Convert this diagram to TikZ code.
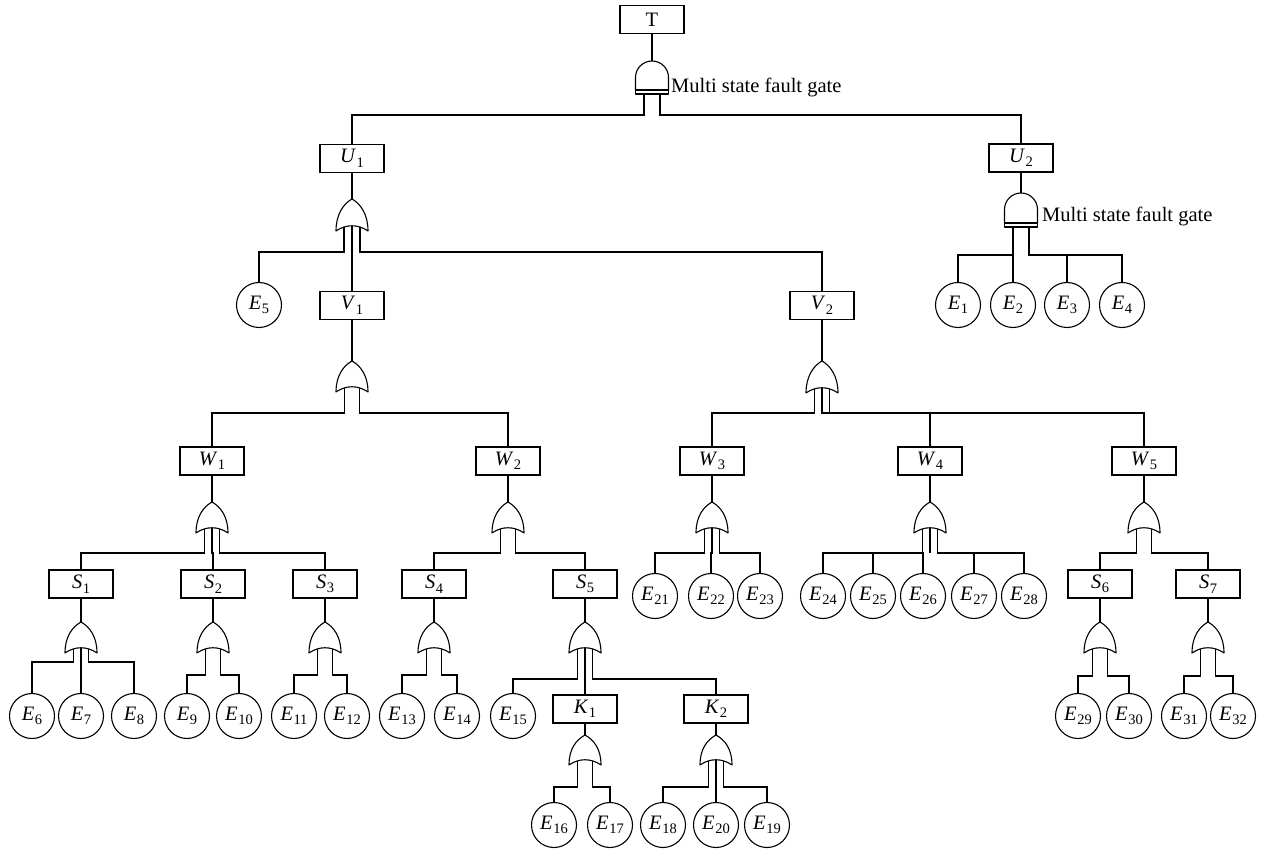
\documentclass[tikz,border=0pt]{standalone}
\usepackage{fontspec}
\setmainfont{Liberation Serif}
\pgfdeclarelayer{bg}
\pgfsetlayers{bg,main}
\tikzset{
  box/.style={draw, rectangle, minimum width=64pt, minimum height=28pt, inner sep=0pt, fill=white, line width=1.1pt},
  ev/.style={draw, circle, minimum size=45pt, inner sep=0pt, fill=white, line width=1.1pt},
  gate/.style={draw, fill=white, line width=1.1pt, line join=round},
  conn/.style={line width=1.1pt},
  lbl/.style={anchor=base west, inner sep=0pt},
}
\newcommand\lab[2]{\textit{#1}\kern0.5pt\raisebox{-4.5pt}{\fontsize{14.5}{14}\selectfont #2}}
\newcommand\orgate[5]{%
  \draw[gate] (#2,#3) .. controls (#2+9,#3+5) and (#2+16,#4-16) .. (#2+16,#4)
    .. controls (#2+6,#4-7) and (#2-6,#4-7) .. (#2-16,#4)
    .. controls (#2-16,#4-16) and (#2-9,#3+5) .. cycle;
  \coordinate (#1) at (#2,#3);
  \coordinate (#1a) at (#2-#5,#4-6);
  \coordinate (#1b) at (#2,#4-6);
  \coordinate (#1c) at (#2+#5,#4-6);}
\newcommand\andgate[5]{%
  \draw[gate] (#2-16.5,#4) -- (#2-16.5,#3+16.5) arc[start angle=180,end angle=0,radius=16.5pt] -- (#2+16.5,#4) -- cycle;
  \draw[gate] (#2-16.5,#4) rectangle (#2+16.5,#4+4);
  \coordinate (#1) at (#2,#3);
  \coordinate (#1a) at (#2-#5,#4+4);
  \coordinate (#1c) at (#2+#5,#4+4);}
\newcommand\link[3]{\draw[conn] (#1) -- (#1 |- 0,#3) -| (#2.north);}
\begin{document}
\begin{tikzpicture}[x=1pt,y=-1pt,font=\fontsize{20.5}{22}\selectfont]
\useasboundingbox (0,0) rectangle (1262,850);
% boxes
\node[box] (T) at (652,19.5) {T};
\node[box] (U1) at (352,158.5) {\lab{U}{1}};
\node[box] (U2) at (1021,158) {\lab{U}{2}};
\node[box] (V1) at (352,305.5) {\lab{V}{1}};
\node[box] (V2) at (822,305.5) {\lab{V}{2}};
\foreach \n/\x in {1/212,2/508,3/712,4/930,5/1144}
  \node[box] (W\n) at (\x,461) {\lab{W}{\n}};
\foreach \n/\x in {1/81,2/213,3/325,4/434,5/585,6/1100,7/1208}
  \node[box] (S\n) at (\x,584) {\lab{S}{\n}};
\node[box] (K1) at (585,709) {\lab{K}{1}};
\node[box] (K2) at (716,709) {\lab{K}{2}};
% events
\foreach \n/\x in {1/958,2/1013,3/1067,4/1122,5/259}
  \node[ev] (E\n) at (\x,305) {\lab{E}{\n}};
\foreach \n/\x in {21/655,22/711,23/760,24/823,25/873,26/923,27/974,28/1024}
  \node[ev] (E\n) at (\x,596) {\lab{E}{\n}};
\foreach \n/\x in {6/32,7/81,8/134,9/187,10/239,11/294,12/347,13/402,14/457,15/513,29/1078,30/1129,31/1184,32/1233}
  \node[ev] (E\n) at (\x,716) {\lab{E}{\n}};
\foreach \n/\x in {16/554,17/610,18/663,20/716,19/767}
  \node[ev] (E\n) at (\x,825) {\lab{E}{\n}};
% gates
\andgate{gT}{652}{61}{90}{8}
\andgate{gU2}{1021}{193}{223}{8}
\orgate{gU1}{352}{199}{231}{8}
\orgate{gV1}{352}{361}{392}{7.5}
\orgate{gV2}{822}{361}{393}{7.5}
\orgate{gW1}{212}{502}{533}{7.5}
\orgate{gW2}{508}{502}{533}{7.5}
\orgate{gW3}{712}{502}{533}{7.5}
\orgate{gW4}{930}{502}{533}{7.5}
\orgate{gW5}{1144}{502}{533}{7.5}
\orgate{gS1}{81}{622}{653}{7.5}
\orgate{gS2}{213}{622}{653}{7.5}
\orgate{gS3}{325}{622}{653}{7.5}
\orgate{gS4}{434}{622}{653}{7.5}
\orgate{gS5}{585}{622}{653}{7.5}
\orgate{gS6}{1100}{622}{653}{7.5}
\orgate{gS7}{1208}{622}{653}{7.5}
\orgate{gK1}{585}{735}{765}{7.5}
\orgate{gK2}{716}{735}{765}{7.5}
% labels
\node[lbl] (mT) at (671,93) {Multi state fault gate};
\node[lbl] (mU2) at (1042,222) {Multi state fault gate};
% connectors
\begin{pgfonlayer}{bg}
\foreach \b in {T,U1,U2,V1,V2,W1,W2,W3,W4,W5,S1,S2,S3,S4,S5,S6,S7,K1,K2}
  \draw[conn] (\b.south) -- (g\b);
\link{gTa}{U1}{115} \link{gTc}{U2}{115}
\link{gU1a}{E5}{252} \link{gU1b}{V1}{252} \link{gU1c}{V2}{252}
\link{gU2a}{E1}{255} \link{gU2a}{E2}{255} \link{gU2c}{E3}{255} \link{gU2c}{E4}{255}
\link{gV1a}{W1}{413} \link{gV1c}{W2}{413}
\link{gV2a}{W3}{413} \link{gV2b}{W4}{413} \link{gV2c}{W5}{413}
\link{gW1a}{S1}{553} \link{gW1b}{S2}{553} \link{gW1c}{S3}{553}
\link{gW2a}{S4}{553} \link{gW2c}{S5}{553}
\link{gW3a}{E21}{553} \link{gW3b}{E22}{553} \link{gW3c}{E23}{553}
\link{gW4a}{E24}{553} \link{gW4a}{E25}{553} \link{gW4a}{E26}{553}
\link{gW4c}{E27}{553} \link{gW4c}{E28}{553}
\draw[conn] (gW4b) -- (gW4b |- 0,553);
\link{gW5a}{S6}{553} \link{gW5c}{S7}{553}
\link{gS1a}{E6}{662} \link{gS1b}{E7}{662} \link{gS1c}{E8}{662}
\link{gS2a}{E9}{675} \link{gS2c}{E10}{675}
\link{gS3a}{E11}{675} \link{gS3c}{E12}{675}
\link{gS4a}{E13}{675} \link{gS4c}{E14}{675}
\link{gS5a}{E15}{679} \link{gS5b}{K1}{679} \link{gS5c}{K2}{679}
\link{gS6a}{E29}{676} \link{gS6c}{E30}{676}
\link{gS7a}{E31}{676} \link{gS7c}{E32}{676}
\link{gK1a}{E16}{787} \link{gK1c}{E17}{787}
\link{gK2a}{E18}{787} \link{gK2b}{E20}{787} \link{gK2c}{E19}{787}
\end{pgfonlayer}
\end{tikzpicture}
\end{document}
